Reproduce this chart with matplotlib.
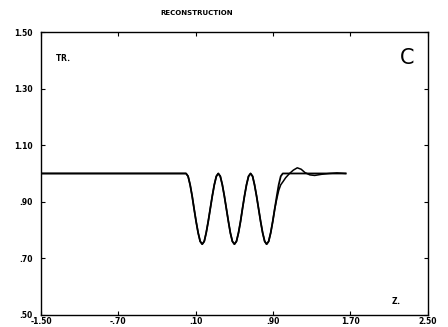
import matplotlib
matplotlib.use("Agg")
import matplotlib.pyplot as plt

# ---------------------------------------
# Data
# ---------------------------------------

flat_x = [-1.50, 0.000]
flat_y = [1.00, 1.00]

# three cosine-like dips between z = 0 and z = 1
dip_x = [0.000, 0.021, 0.042, 0.063, 0.083, 0.104, 0.125, 0.146, 0.167,
         0.188, 0.208, 0.229, 0.250, 0.271, 0.292, 0.313, 0.333,
         0.354, 0.375, 0.396, 0.417, 0.438, 0.458, 0.479, 0.500,
         0.521, 0.542, 0.563, 0.583, 0.604, 0.625, 0.646, 0.667,
         0.688, 0.708, 0.729, 0.750, 0.771, 0.792, 0.813, 0.833]
dip_y = [1.00, 0.99, 0.96, 0.92, 0.875, 0.83, 0.79, 0.76, 0.75,
         0.76, 0.79, 0.83, 0.875, 0.92, 0.96, 0.99, 1.00,
         0.99, 0.96, 0.92, 0.875, 0.83, 0.79, 0.76, 0.75,
         0.76, 0.79, 0.83, 0.875, 0.92, 0.96, 0.99, 1.00,
         0.99, 0.96, 0.92, 0.875, 0.83, 0.79, 0.76, 0.75]

# last rise: original profile
orig_tail_x = [0.854, 0.875, 0.896, 0.917, 0.938, 0.958, 0.979, 1.000, 1.65]
orig_tail_y = [0.76, 0.79, 0.83, 0.875, 0.92, 0.96, 0.99, 1.00, 1.00]

# last rise: reconstruction with overshoot
rec_tail_x = [0.854, 0.875, 0.896, 0.917, 0.938, 0.958, 0.979, 1.000,
              1.03, 1.07, 1.11, 1.15, 1.19, 1.23, 1.28, 1.33, 1.40,
              1.48, 1.56, 1.65]
rec_tail_y = [0.76, 0.79, 0.83, 0.875, 0.91, 0.94, 0.96, 0.97,
              0.985, 1.00, 1.012, 1.02, 1.015, 1.003, 0.995, 0.993, 0.997,
              1.00, 1.002, 1.00]

x_ticks = [-1.50, -0.70, 0.10, 0.90, 1.70, 2.50]
x_labels = ["-1.50", "-.70", ".10", ".90", "1.70", "2.50"]
y_ticks = [0.50, 0.70, 0.90, 1.10, 1.30, 1.50]
y_labels = [".50", ".70", ".90", "1.10", "1.30", "1.50"]

# ---------------------------------------
# Plot
# ---------------------------------------

fig = plt.figure(figsize=(4.48, 3.27), dpi=100)
ax = fig.add_axes([0.0915, 0.037, 0.8635, 0.865])

ax.plot(flat_x + dip_x + orig_tail_x, flat_y + dip_y + orig_tail_y,
        color="black", linewidth=1.3)
ax.plot(flat_x + dip_x + rec_tail_x, flat_y + dip_y + rec_tail_y,
        color="black", linewidth=1.1)

ax.set_xlim(-1.50, 2.50)
ax.set_ylim(0.50, 1.50)

ax.set_xticks(x_ticks)
ax.set_xticklabels(x_labels)
ax.set_yticks(y_ticks)
ax.set_yticklabels(y_labels)

ax.tick_params(direction="in", length=3, width=0.8, top=True, right=True,
               labelsize=5.5)
ax.tick_params(axis="x", pad=1.5)
ax.tick_params(axis="y", pad=6)
for lab in ax.get_xticklabels() + ax.get_yticklabels():
    lab.set_fontweight("bold")

for side in ax.spines.values():
    side.set_linewidth(1.0)

ax.text(0.035, 0.91, r"TR$_{\bullet}$", transform=ax.transAxes,
        fontsize=5.5, fontweight="bold", va="center")
ax.text(0.905, 0.05, r"Z$_{\bullet}$", transform=ax.transAxes,
        fontsize=5.5, fontweight="bold", va="center")
ax.text(0.965, 0.91, "C", transform=ax.transAxes, fontsize=15,
        ha="right", va="center")

fig.text(0.44, 0.955, "RECONSTRUCTION", ha="center", fontsize=5,
         fontweight="bold")

fig.savefig("out.png", dpi=100)
plt.close(fig)
